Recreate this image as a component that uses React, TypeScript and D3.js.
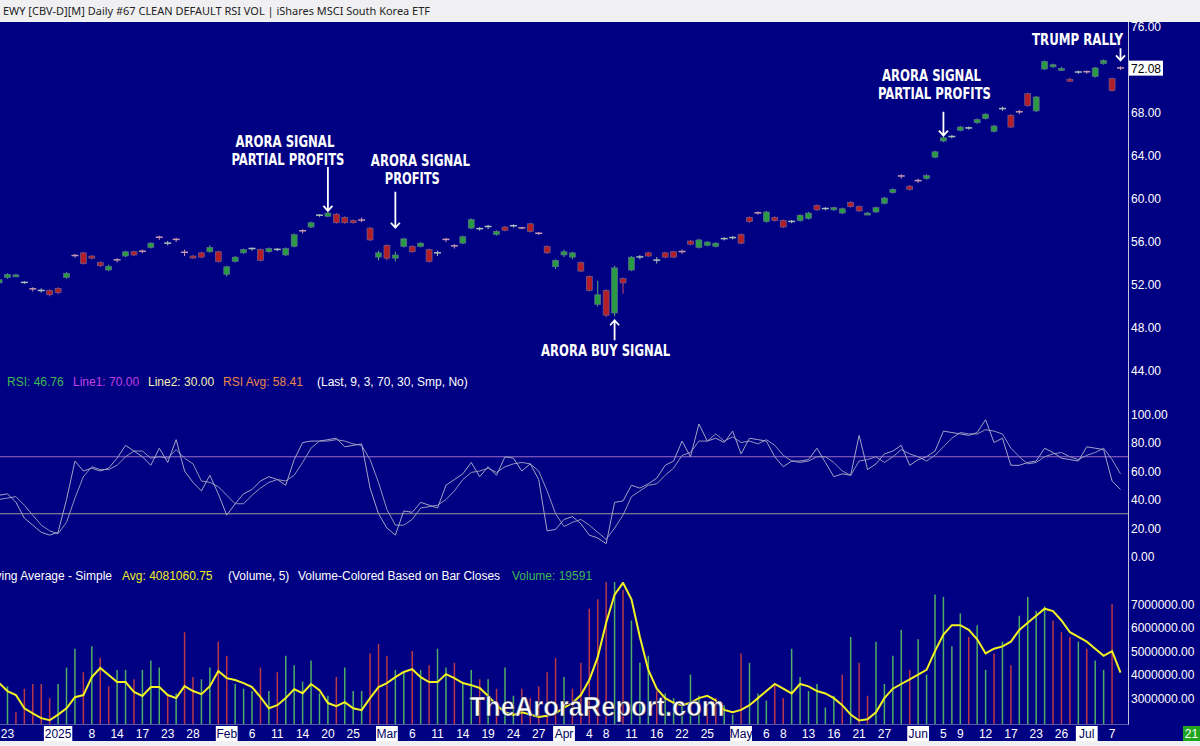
import React from 'react';
import * as d3 from 'd3';

// trading days shown on the chart, per month
const dec2024 = [20, 23, 24, 26, 27, 30, 31];
const jan2025 = [2, 3, 6, 7, 8, 10, 13, 14, 15, 16, 17, 21, 22, 23, 24, 27, 28, 29, 30, 31];
const feb2025 = [3, 4, 5, 6, 7, 10, 11, 12, 13, 14, 18, 19, 20, 21, 24, 25, 26, 27, 28];
const mar2025 = [3, 4, 5, 6, 7, 10, 11, 12, 13, 14, 17, 18, 19, 20, 21, 24, 25, 26, 27, 28, 31];
const apr2025 = [1, 2, 3, 4, 7, 8, 9, 10, 11, 14, 15, 16, 17, 21, 22, 23, 24, 25, 28, 29, 30];
const may2025 = [1, 2, 5, 6, 7, 8, 9, 12, 13, 14, 15, 16, 19, 20, 21, 22, 23, 27, 28, 29, 30];
const jun2025 = [2, 3, 4, 5, 6, 9, 10, 11, 12, 13, 16, 17, 18, 20, 23, 24, 25, 26, 27, 30];
const jul2025 = [1, 2, 3, 7, 8];

const pad = (d: number) => String(d).padStart(2, '0');
const dates: string[] = [
  ...dec2024.map(d => `2024-12-${pad(d)}`),
  ...jan2025.map(d => `2025-01-${pad(d)}`),
  ...feb2025.map(d => `2025-02-${pad(d)}`),
  ...mar2025.map(d => `2025-03-${pad(d)}`),
  ...apr2025.map(d => `2025-04-${pad(d)}`),
  ...may2025.map(d => `2025-05-${pad(d)}`),
  ...jun2025.map(d => `2025-06-${pad(d)}`),
  ...jul2025.map(d => `2025-07-${pad(d)}`),
];

const opens = [
  52.1, 52.6, 52.75, 52.1, 51.55, 51.35, 51.4, 51.6, 52.6, 54.65,
  54.9, 54.6, 54.0, 53.3, 54.25, 54.6, 55.0, 55.05, 55.4, 56.35,
  55.75, 56.15, 54.95, 54.6, 54.9, 55.0, 55.0, 52.9, 54.1, 54.9,
  55.25, 55.2, 55.0, 55.15, 54.7, 55.5, 56.95, 57.3, 58.35, 58.3,
  58.5, 58.2, 57.9, 57.95, 57.2, 54.5, 55.6, 54.4, 55.5, 55.5,
  55.5, 55.2, 54.85, 56.15, 55.55, 55.8, 57.2, 57.1, 57.3, 56.6,
  57.3, 57.38, 57.22, 57.6, 56.72, 55.5, 53.6, 54.7, 54.5, 54.0,
  52.7, 50.1, 51.4, 49.3, 52.5, 53.3, 54.48, 54.9, 54.18, 54.9,
  55.0, 55.02, 56.0, 55.4, 55.6, 55.5, 56.18, 56.28, 56.6, 58.2,
  58.62, 57.8, 58.2, 57.9, 57.78, 57.9, 58.1, 59.3, 58.98, 58.9,
  58.6, 59.6, 59.2, 58.5, 58.7, 59.5, 60.5, 62.05, 61.1, 61.62,
  61.8, 63.8, 65.3, 65.68, 66.3, 66.48, 67.0, 67.4, 66.2, 68.28,
  67.7, 68.02, 69.7, 68.1, 72.0, 72.2, 71.95, 71.05, 71.68, 71.75,
  71.3, 72.5, 71.1, 72.1,
];
const closes = [
  52.4, 52.9, 52.85, 52.15, 51.5, 51.4, 51.0, 51.2, 53.0, 54.6,
  53.9, 54.4, 53.7, 53.65, 54.2, 55.0, 54.7, 55.0, 55.8, 56.3,
  55.8, 56.1, 54.9, 54.45, 54.5, 55.4, 54.1, 53.6, 54.5, 55.2,
  55.3, 54.2, 55.3, 55.22, 55.3, 56.6, 56.9, 57.7, 58.4, 58.6,
  57.7, 57.7, 57.7, 57.9, 56.1, 54.9, 54.4, 54.7, 56.2, 55.0,
  55.8, 54.1, 54.9, 56.1, 55.5, 56.4, 58.0, 57.15, 57.35, 56.9,
  57.0, 57.42, 57.18, 56.9, 56.68, 54.9, 54.2, 55.0, 54.9, 53.2,
  51.4, 51.0, 49.1, 53.5, 52.1, 54.5, 54.52, 54.6, 54.22, 54.5,
  54.5, 54.98, 55.7, 56.1, 55.9, 55.8, 56.22, 56.32, 55.8, 57.8,
  58.58, 58.7, 57.9, 57.3, 57.82, 58.4, 58.6, 58.9, 59.02, 59.1,
  59.0, 59.2, 58.8, 58.6, 59.1, 60.0, 60.8, 62.0, 60.8, 61.58,
  62.1, 64.3, 65.6, 65.72, 66.6, 66.52, 67.3, 67.8, 66.7, 68.32,
  66.6, 67.98, 68.6, 69.4, 72.7, 72.4, 72.05, 70.95, 71.72, 71.7,
  72.1, 72.8, 70.0, 72.08,
];
const highs = [
  52.6, 53.0, 52.95, 52.25, 51.7, 51.6, 51.5, 51.7, 53.1, 54.8,
  55.0, 54.7, 54.1, 53.8, 54.4, 55.1, 55.1, 55.2, 55.9, 56.5,
  56.0, 56.3, 55.2, 54.7, 55.0, 55.6, 55.1, 53.7, 54.6, 55.3,
  55.4, 55.3, 55.4, 55.35, 55.4, 56.7, 57.1, 57.8, 58.5, 58.7,
  58.6, 58.3, 58.0, 58.2, 57.3, 55.1, 55.7, 55.0, 56.3, 55.6,
  55.9, 55.3, 55.1, 56.3, 55.7, 56.5, 58.1, 57.3, 57.5, 57.0,
  57.4, 57.55, 57.3, 57.7, 56.85, 55.6, 54.3, 55.2, 55.0, 54.1,
  52.8, 52.3, 51.5, 53.7, 52.6, 54.6, 54.7, 55.0, 54.5, 55.0,
  55.1, 55.2, 56.1, 56.2, 56.0, 55.9, 56.35, 56.45, 56.7, 58.3,
  58.75, 58.8, 58.3, 58.0, 57.95, 58.5, 58.7, 59.4, 59.15, 59.2,
  59.1, 59.7, 59.3, 58.7, 59.2, 60.1, 60.9, 62.2, 61.2, 61.8,
  62.2, 64.4, 65.7, 65.85, 66.7, 66.65, 67.4, 67.9, 66.8, 68.5,
  67.8, 68.2, 69.8, 69.5, 72.8, 72.5, 72.2, 71.2, 71.85, 71.85,
  72.2, 72.9, 71.2, 72.25,
];
const lows = [
  51.9, 52.5, 52.65, 52.0, 51.3, 51.2, 50.85, 51.05, 52.5, 54.45,
  53.8, 54.3, 53.6, 53.2, 54.0, 54.5, 54.6, 54.85, 55.3, 56.1,
  55.6, 55.9, 54.6, 54.35, 54.4, 54.9, 54.0, 52.7, 54.0, 54.8,
  55.1, 54.1, 54.9, 55.05, 54.6, 55.4, 56.7, 57.2, 58.25, 58.2,
  57.6, 57.6, 57.6, 57.75, 56.0, 54.2, 54.2, 54.1, 55.4, 54.9,
  55.4, 54.0, 54.6, 55.9, 55.3, 55.7, 57.1, 56.95, 57.1, 56.5,
  56.9, 57.25, 57.1, 56.8, 56.55, 54.8, 53.4, 54.5, 54.3, 53.1,
  51.3, 49.9, 48.9, 49.0, 51.1, 53.2, 54.3, 54.5, 53.9, 54.4,
  54.4, 54.8, 55.6, 55.3, 55.5, 55.4, 56.05, 56.15, 55.7, 57.7,
  58.45, 57.7, 57.8, 57.2, 57.65, 57.8, 58.0, 58.8, 58.85, 58.8,
  58.5, 59.1, 58.7, 58.4, 58.6, 59.4, 60.4, 61.8, 60.7, 61.4,
  61.7, 63.7, 65.2, 65.55, 66.2, 66.35, 66.9, 67.3, 66.1, 68.1,
  66.5, 67.8, 68.5, 68.0, 71.9, 72.1, 71.85, 70.8, 71.55, 71.55,
  71.2, 72.4, 69.9, 71.9,
];

// RSI(9) and its 3-bar average
const rsiValues = [
  43, 44, 38, 27, 22, 17, 15, 17, 40, 67,
  60, 62, 60, 62, 69, 78, 74, 70, 64, 76,
  66, 82, 60, 52, 46, 57, 44, 29, 37, 44,
  47, 53, 56, 54, 50, 68, 80, 81, 81, 82,
  83, 77, 78, 79, 48, 30, 20, 15, 32, 31,
  38, 36, 34, 50, 54, 58, 66, 56, 63, 57,
  70, 69, 60, 65, 54, 18, 19, 26, 28, 23,
  15, 13, 9, 38, 39, 50, 48, 51, 55, 64,
  67, 81, 70, 93, 81, 83, 80, 88, 72, 83,
  82, 81, 70, 63, 67, 67, 68, 76, 66, 56,
  58, 57, 85, 61, 65, 72, 74, 78, 64, 68,
  70, 74, 88, 87, 86, 85, 87, 96, 80, 83,
  64, 64, 66, 67, 76, 73, 69, 68, 67, 77,
  76, 75, 53, 47,
];
const rsiAvgValues = [
  40, 41, 42, 36, 29, 22, 18, 16, 24, 41,
  56, 63, 61, 61, 64, 70, 74, 74, 69, 70,
  69, 75, 69, 65, 53, 52, 49, 43, 37, 37,
  43, 48, 52, 54, 53, 57, 66, 76, 81, 81,
  82, 81, 79, 78, 68, 52, 33, 22, 22, 26,
  34, 35, 36, 40, 46, 54, 59, 60, 62, 59,
  63, 65, 66, 65, 60, 46, 30, 21, 24, 26,
  22, 17, 12, 20, 29, 42, 46, 50, 51, 57,
  62, 71, 73, 81, 81, 86, 81, 84, 80, 81,
  79, 82, 78, 71, 67, 66, 67, 70, 70, 66,
  60, 57, 67, 68, 70, 66, 70, 75, 72, 70,
  67, 71, 77, 83, 87, 86, 86, 89, 88, 86,
  76, 70, 65, 66, 70, 72, 73, 70, 68, 71,
  73, 76, 68, 58,
];

// volume and its 5-bar moving average, millions of shares
const volumes = [
  3.0, 3.5, 2.4, 3.4, 3.6, 3.6, 3.0, 3.6, 4.3, 5.1,
  4.1, 5.2, 4.7, 3.5, 4.2, 4.2, 3.8, 4.2, 4.6, 4.3,
  3.1, 3.2, 5.8, 3.9, 3.8, 4.3, 5.4, 4.8, 3.6, 3.4,
  3.3, 4.3, 3.3, 4.1, 4.8, 4.4, 3.7, 4.6, 3.2, 3.1,
  3.9, 4.3, 3.3, 3.3, 4.9, 5.3, 4.8, 4.2, 4.1, 5.0,
  4.2, 4.4, 5.1, 4.3, 4.5, 3.7, 4.2, 3.8, 3.8, 3.4,
  4.3, 3.1, 3.4, 3.0, 3.5, 4.1, 4.7, 3.9, 3.4, 4.5,
  6.8, 7.2, 8.4, 8.6, 7.6, 6.3, 4.5, 4.8, 3.3, 3.2,
  3.0, 2.8, 4.0, 3.1, 2.6, 3.0, 2.7, 2.3, 4.9, 4.5,
  3.2, 2.9, 3.6, 3.0, 5.1, 3.9, 3.3, 3.6, 2.6, 3.1,
  4.0, 5.6, 4.5, 3.1, 5.4, 3.6, 4.8, 5.9, 4.2, 5.5,
  4.0, 7.4, 7.3, 5.2, 6.6, 5.6, 6.1, 4.2, 4.9, 5.4,
  4.4, 6.5, 7.3, 6.7, 6.9, 6.3, 5.8, 5.6, 5.4, 5.1,
  4.6, 4.2, 7.0, 0.019591,
];
const volumeAvg = [
  3.64, 3.3, 3.13, 2.57, 2.35, 2.15, 2.06, 2.3, 2.57, 3.04,
  3.13, 3.89, 4.28, 3.98, 3.68, 3.68, 3.26, 3.09, 3.47, 3.47,
  3.13, 3.0, 3.51, 3.3, 3.17, 3.51, 4.15, 3.85, 3.77, 3.64,
  3.47, 3.04, 2.57, 2.7, 3.0, 3.38, 3.21, 3.6, 3.34, 2.79,
  2.66, 2.83, 2.57, 2.49, 3.0, 3.47, 3.64, 3.89, 4.11, 4.23,
  3.89, 3.68, 3.68, 4.02, 3.85, 3.64, 3.55, 3.43, 3.09, 2.7,
  2.4, 2.28, 2.4, 2.3, 2.2, 2.25, 2.35, 2.6, 2.79, 3.13,
  3.77, 4.74, 6.2, 7.4, 7.9, 7.2, 5.6, 4.2, 3.4, 3.0,
  2.8, 2.7, 2.8, 3.0, 3.1, 2.9, 2.5, 2.4, 2.5, 2.7,
  3.0, 3.3, 3.6, 3.4, 3.2, 3.6, 3.5, 3.3, 3.2, 3.0,
  2.7, 2.3, 2.05, 2.1, 2.4, 3.0, 3.4, 3.6, 3.8, 4.0,
  4.2, 5.0, 5.7, 6.1, 6.1, 5.9, 5.5, 4.9, 5.1, 5.2,
  5.4, 5.9, 6.2, 6.5, 6.8, 6.7, 6.3, 5.8, 5.6, 5.4,
  5.1, 4.8, 5.0, 4.08,
];

const xTicks: [string, string][] = [
  ['2024-12-23', '23'], ['2025-01-02', '2025'], ['2025-01-08', '8'], ['2025-01-14', '14'],
  ['2025-01-17', '17'], ['2025-01-23', '23'], ['2025-01-28', '28'], ['2025-02-03', 'Feb'],
  ['2025-02-06', '6'], ['2025-02-11', '11'], ['2025-02-14', '14'], ['2025-02-20', '20'],
  ['2025-02-25', '25'], ['2025-03-03', 'Mar'], ['2025-03-06', '6'], ['2025-03-11', '11'],
  ['2025-03-14', '14'], ['2025-03-19', '19'], ['2025-03-24', '24'], ['2025-03-27', '27'],
  ['2025-04-01', 'Apr'], ['2025-04-04', '4'], ['2025-04-08', '8'], ['2025-04-11', '11'],
  ['2025-04-16', '16'], ['2025-04-22', '22'], ['2025-04-25', '25'], ['2025-05-01', 'May'],
  ['2025-05-06', '6'], ['2025-05-08', '8'], ['2025-05-13', '13'], ['2025-05-16', '16'],
  ['2025-05-21', '21'], ['2025-05-27', '27'], ['2025-06-02', 'Jun'], ['2025-06-05', '5'],
  ['2025-06-09', '9'], ['2025-06-12', '12'], ['2025-06-17', '17'], ['2025-06-23', '23'],
  ['2025-06-26', '26'], ['2025-07-01', 'Jul'], ['2025-07-07', '7'],
];

// annotations: which bar they point at and what they say
const signalDates = ['2025-02-20', '2025-03-04', '2025-04-09', '2025-06-05', '2025-07-08'];
const signalTexts = [
  ['ARORA SIGNAL', 'PARTIAL PROFITS'],
  ['ARORA SIGNAL', 'PROFITS'],
  ['ARORA BUY SIGNAL'],
  ['ARORA SIGNAL', 'PARTIAL PROFITS'],
  ['TRUMP RALLY'],
];

// placement of each annotation relative to its bar (pixels)
const signalLayout = [
  { dir: 'down', dx: [-43, -40], gap: 1, len: 44, textGap: 2 },
  { dir: 'down', dx: [25, 17], gap: 24, len: 36, textGap: 8 },
  { dir: 'up', dx: [-9], gap: 4, len: 20, textGap: 16 },
  { dir: 'down', dx: [-12, -9], gap: 1, len: 24, textGap: 13 },
  { dir: 'down', dx: [-43], gap: 6, len: 12, textGap: 3 },
];
const textWidths: Record<string, number> = {
  'ARORA SIGNAL': 99, 'PARTIAL PROFITS': 113, 'PROFITS': 55, 'ARORA BUY SIGNAL': 129, 'TRUMP RALLY': 91,
};

const NAVY = '#000082';
const FONT = '"Liberation Sans", Arial, sans-serif';
const NARROW = '"Liberation Sans Narrow", "Arial Narrow", "DejaVu Sans Condensed", sans-serif';
const PLOT_R = 1128;

const App: React.FC = () => {
  const n = dates.length;
  const x = d3.scaleLinear().domain([1, n - 1]).range([7.5, 1120.5]);
  const yP = d3.scaleLinear().domain([44, 76]).range([370, 26]);
  const yR = d3.scaleLinear().domain([0, 100]).range([556.5, 414]);
  const yV = d3.scaleLinear().domain([1.9, 7]).range([724, 604]);

  const rsiLine = d3.line<number>().x((_, i) => x(i)).y(d => yR(d));
  const volLine = d3.line<number>().x((_, i) => x(i)).y(d => yV(d));

  const last = closes[n - 1];

  const annText = (t: string, tx: number, ty: number) => (
    <text key={t + tx} x={tx} y={ty} textAnchor="middle" fill="#fff" fontFamily={NARROW}
      fontWeight="bold" fontSize={15.5} textLength={textWidths[t]} lengthAdjust="spacingAndGlyphs">
      {t}
    </text>
  );

  return (
    <svg width={1200} height={746} style={{ position: 'absolute', left: 0, top: 0, display: 'block' }}
      fontFamily={FONT}>
      <defs>
        <clipPath id="cp-price"><rect x={0} y={22} width={PLOT_R} height={350} /></clipPath>
        <clipPath id="cp-rsi"><rect x={0} y={395} width={PLOT_R} height={175} /></clipPath>
        <clipPath id="cp-vol"><rect x={0} y={582} width={PLOT_R} height={142} /></clipPath>
      </defs>
      <rect x={0} y={0} width={1200} height={746} fill={NAVY} />

      {/* price candles */}
      <g clipPath="url(#cp-price)">
        {dates.map((d, i) => {
          const o = opens[i], c = closes[i];
          const up = c >= o;
          const doji = Math.abs(c - o) < 0.08;
          const cx = x(i);
          const top = yP(Math.max(o, c));
          const bot = yP(Math.min(o, c));
          const wick = doji ? (up ? '#a8c0b8' : '#c898b0') : (up ? '#58b070' : '#c05060');
          return (
            <g key={d}>
              <line x1={cx} x2={cx} y1={yP(highs[i])} y2={yP(lows[i])} stroke={wick} strokeWidth={1} />
              {doji ? (
                <line x1={cx - 3.5} x2={cx + 3.5} y1={top} y2={top} stroke={wick} strokeWidth={1.5} />
              ) : (
                <rect x={cx - 3} y={top} width={6} height={Math.max(bot - top, 2)}
                  fill={up ? '#2a9a44' : '#b31f29'} stroke="#6a6a9c" strokeWidth={0.6} />
              )}
            </g>
          );
        })}
      </g>

      {/* annotations */}
      {signalDates.map((d, k) => {
        const i = dates.indexOf(d);
        const lay = signalLayout[k];
        const lines = signalTexts[k];
        const ax = x(i);
        if (lay.dir === 'up') {
          const tip = yP(lows[i]) + lay.gap;
          return (
            <g key={d}>
              <path d={`M${ax},${tip + lay.len}V${tip}M${ax - 4.5},${tip + 5}L${ax},${tip}L${ax + 4.5},${tip + 5}`}
                stroke="#fff" strokeWidth={1.8} fill="none" />
              {annText(lines[0], ax + lay.dx[0], tip + lay.len + lay.textGap)}
            </g>
          );
        }
        const tip = yP(highs[i]) - lay.gap;
        const topY = tip - lay.len;
        const base = topY - lay.textGap - (lines.length - 1) * 18;
        return (
          <g key={d}>
            <path d={`M${ax},${topY}V${tip}M${ax - 4.5},${tip - 5}L${ax},${tip}L${ax + 4.5},${tip - 5}`}
              stroke="#fff" strokeWidth={1.8} fill="none" />
            {lines.map((t, j) => annText(t, ax + lay.dx[j], base + j * 18))}
          </g>
        );
      })}

      {/* RSI legend */}
      <text y={386} fontSize={12}>
        <tspan x={7} fill="#3dba50">RSI: 46.76</tspan>
        <tspan x={73} fill="#c040e0">Line1: 70.00</tspan>
        <tspan x={148} fill="#f4f0b0">Line2: 30.00</tspan>
        <tspan x={223} fill="#e88848">RSI Avg: 58.41</tspan>
        <tspan x={317} fill="#ffffff">(Last, 9, 3, 70, 30, Smp, No)</tspan>
      </text>

      {/* RSI panel */}
      <g clipPath="url(#cp-rsi)">
        <line x1={0} x2={PLOT_R} y1={yR(70)} y2={yR(70)} stroke="#9a6cc8" strokeWidth={1.2} />
        <line x1={0} x2={PLOT_R} y1={yR(30)} y2={yR(30)} stroke="#a09a94" strokeWidth={1.2} />
        <path d={rsiLine(rsiAvgValues) || ''} fill="none" stroke="#9494bc" strokeWidth={1} />
        <path d={rsiLine(rsiValues) || ''} fill="none" stroke="#a4a4c6" strokeWidth={1} />
      </g>

      {/* volume legend */}
      <text x={112} y={580} fontSize={12} textAnchor="end" fill="#fff">Moving Average - Simple</text>
      <text y={580} fontSize={12}>
        <tspan x={122} fill="#f0f020">Avg: 4081060.75</tspan>
        <tspan x={228} fill="#fff">(Volume, 5)</tspan>
        <tspan x={298} fill="#fff">Volume-Colored Based on Bar Closes</tspan>
        <tspan x={512} fill="#3dba50">Volume: 19591</tspan>
      </text>

      {/* volume panel */}
      <g clipPath="url(#cp-vol)">
        {volumes.map((v, i) => {
          const up = i === 0 ? closes[0] >= opens[0] : closes[i] >= closes[i - 1];
          return (
            <line key={dates[i]} x1={x(i)} x2={x(i)} y1={yV(1.9)} y2={yV(v)}
              stroke={up ? '#4cae66' : '#b83848'} strokeWidth={1.5} />
          );
        })}
        <path d={volLine(volumeAvg) || ''} fill="none" stroke="#f2f222" strokeWidth={2} />
      </g>

      {/* watermark */}
      <text x={597} y={716} textAnchor="middle" fill="#fff" fontWeight="bold" fontSize={27}
        stroke="#202040" strokeWidth={0.6} textLength={255} lengthAdjust="spacingAndGlyphs">
        TheAroraReport.com
      </text>

      {/* right axis */}
      <g fill="#fff" fontSize={12}>
        {d3.range(44, 77, 4).map(t => (
          <text key={`p${t}`} x={1131} y={yP(t) + 4.5}>{t.toFixed(2)}</text>
        ))}
        {d3.range(0, 101, 20).map(t => (
          <text key={`r${t}`} x={1131} y={yR(t) + 4.5}>{t.toFixed(2)}</text>
        ))}
        {[3, 4, 5, 6, 7].map(t => (
          <text key={`v${t}`} x={1131} y={yV(t) + 4.5}>{(t * 1e6).toFixed(2)}</text>
        ))}
      </g>
      <rect x={1129} y={yP(last) - 7.5} width={34} height={15} fill="#fff" />
      <text x={1131} y={yP(last) + 4.5} fontSize={12} fill="#000">{last.toFixed(2)}</text>

      {/* borders */}
      <line x1={PLOT_R + 0.5} x2={PLOT_R + 0.5} y1={22} y2={725} stroke="#c4c4dc" strokeWidth={1} />
      <line x1={0} x2={PLOT_R + 0.5} y1={724.5} y2={724.5} stroke="#5858a8" strokeWidth={1} />

      {/* date axis */}
      <g fontSize={12}>
        {xTicks.map(([d, label]) => {
          const cx = x(dates.indexOf(d));
          const boxed = !/^\d{1,2}$/.test(label);
          const w = label.length * 6.6 + 2;
          return (
            <g key={d}>
              {boxed && <rect x={cx - w / 2} y={726} width={w} height={15} fill="#fff" />}
              <text x={cx} y={738} textAnchor="middle" fill={boxed ? '#000060' : '#fff'}>{label}</text>
            </g>
          );
        })}
      </g>
      <rect x={1183} y={726} width={17} height={15} fill="#1fa51f" />
      <text x={1191.5} y={738} textAnchor="middle" fontSize={12} fill="#fff">21</text>

      {/* title and bottom strips */}
      <rect x={0} y={0} width={1200} height={22} fill="#f0f0f2" />
      <text x={3} y={15} fontSize={11.5} fill="#222" fontFamily='"Noto Sans", "Open Sans", sans-serif'
        textLength={427} lengthAdjust="spacingAndGlyphs">
        EWY [CBV-D][M]  Daily #67 CLEAN DEFAULT RSI VOL | iShares MSCI South Korea ETF
      </text>
      <rect x={0} y={741} width={1200} height={5} fill="#f0f0f2" />
    </svg>
  );
};

export default App;
